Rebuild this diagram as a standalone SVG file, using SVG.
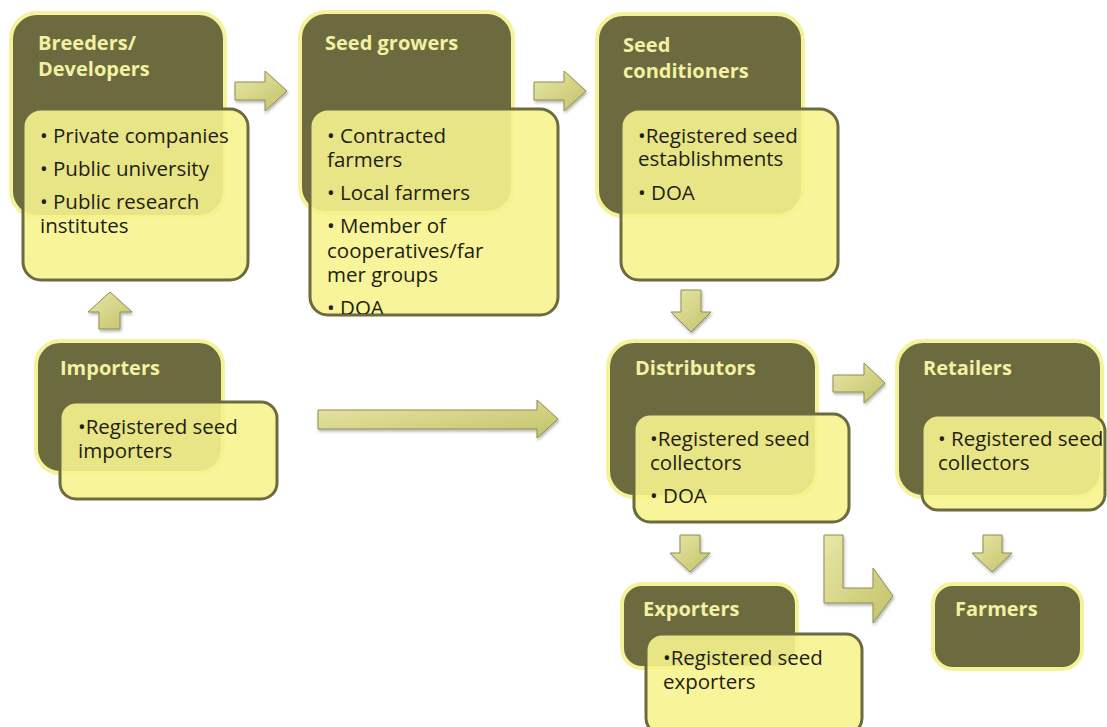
<svg xmlns="http://www.w3.org/2000/svg" width="1107" height="727" viewBox="0 0 1107 727">
<style>
.dark{fill:#6c6a3f;stroke:#f5f39a;stroke-width:4}
.light{fill:#f6f38e;fill-opacity:0.9;stroke:#6c6a3f;stroke-width:3}
.title{font-family:"Open Sans","Liberation Sans",sans-serif;font-weight:bold;font-size:20px;fill:#f3f1a2}
.body{font-family:"Open Sans","Liberation Sans",sans-serif;font-size:20.5px;fill:#1e1e14}
.arrow{fill:url(#ag);stroke:#8f8e52;stroke-width:1;filter:url(#sh)}
</style>
<defs>
<linearGradient id="ag" x1="0" y1="0" x2="1" y2="1">
<stop offset="0" stop-color="#e8e7a6"/>
<stop offset="1" stop-color="#c3c26a"/>
</linearGradient>
<filter id="sh" x="-20%" y="-20%" width="150%" height="150%">
<feDropShadow dx="1" dy="2" stdDeviation="1.5" flood-color="#000" flood-opacity="0.3"/>
</filter>
<clipPath id="cg"><rect x="310" y="108" width="248" height="206" rx="18"/></clipPath>
</defs>

<g id="connectors">
<path class="arrow" d="M235,82 H265 V71 L287,91 L265,111 V100 H235 Z"/>
<path class="arrow" d="M534,82 H564 V71 L586,91 L564,111 V100 H534 Z"/>
<path class="arrow" d="M681,290 H701 V312 H711 L691,332 L671,312 H681 Z"/>
<path class="arrow" d="M99,329 V312 H88 L110,292 L132,312 H120 V329 Z"/>
<path class="arrow" d="M318,410 H537 V400 L558,419 L537,438 V429 H318 Z"/>
<path class="arrow" d="M833,375 H864 V363 L885,383 L864,403 V392 H833 Z"/>
<path class="arrow" d="M680,535 H700 V553 H710 L690,572 L670,553 H680 Z"/>
<path class="arrow" d="M983,535 H1002 V553 H1012 L992,572 L972,553 H983 Z"/>
<path class="arrow" d="M824,535 H843 V588 H873 V568 L893,596 L873,623 V603 H824 Z"/>
</g>

<g id="breeders">
<rect class="dark" x="11" y="13" width="214" height="204" rx="26"/>
<text class="title" x="38" y="50">Breeders/</text>
<text class="title" x="38" y="76">Developers</text>
<rect class="light" x="23" y="109" width="225" height="171" rx="18"/>
<text class="body" x="40" y="143">• Private companies</text>
<text class="body" x="40" y="176">• Public university</text>
<text class="body" x="40" y="209">• Public research</text>
<text class="body" x="40" y="233">institutes</text>
</g>

<g id="seed-growers">
<rect class="dark" x="300" y="12" width="213" height="201" rx="26"/>
<text class="title" x="325" y="50">Seed growers</text>
<rect class="light" x="310" y="109" width="248" height="206" rx="18"/>
<g clip-path="url(#cg)">
<text class="body" x="327" y="143">• Contracted</text>
<text class="body" x="327" y="167">farmers</text>
<text class="body" x="327" y="200">• Local farmers</text>
<text class="body" x="327" y="233">• Member of</text>
<text class="body" x="327" y="258">cooperatives/far</text>
<text class="body" x="327" y="282">mer groups</text>
<text class="body" x="327" y="315">• DOA</text>
</g>
</g>

<g id="seed-conditioners">
<rect class="dark" x="597" y="14" width="206" height="202" rx="26"/>
<text class="title" x="623" y="52">Seed</text>
<text class="title" x="623" y="78">conditioners</text>
<rect class="light" x="621" y="109" width="217" height="171" rx="18"/>
<text class="body" x="638" y="143">•Registered seed</text>
<text class="body" x="638" y="166">establishments</text>
<text class="body" x="638" y="200">• DOA</text>
</g>

<g id="importers">
<rect class="dark" x="36" y="341" width="187" height="132" rx="24"/>
<text class="title" x="60" y="375">Importers</text>
<rect class="light" x="60" y="402" width="217" height="97" rx="16"/>
<text class="body" x="78" y="434">•Registered seed</text>
<text class="body" x="78" y="458">importers</text>
</g>

<g id="distributors">
<rect class="dark" x="608" y="341" width="209" height="156" rx="26"/>
<text class="title" x="635" y="375">Distributors</text>
<rect class="light" x="634" y="414" width="215" height="108" rx="16"/>
<text class="body" x="650" y="446">•Registered seed</text>
<text class="body" x="650" y="470">collectors</text>
<text class="body" x="650" y="503">• DOA</text>
</g>

<g id="retailers">
<rect class="dark" x="897" y="341" width="205" height="156" rx="26"/>
<text class="title" x="923" y="375">Retailers</text>
<rect class="light" x="922" y="415" width="183" height="95" rx="16"/>
<text class="body" x="938" y="446">• Registered seed</text>
<text class="body" x="938" y="470">collectors</text>
</g>

<g id="exporters">
<rect class="dark" x="622" y="584" width="175" height="84" rx="20"/>
<text class="title" x="643" y="616">Exporters</text>
<rect class="light" x="646" y="634" width="216" height="100" rx="16"/>
<text class="body" x="663" y="665">•Registered seed</text>
<text class="body" x="663" y="689">exporters</text>
</g>

<g id="farmers">
<rect class="dark" x="933" y="584" width="149" height="85" rx="20"/>
<text class="title" x="955" y="616">Farmers</text>
</g>
</svg>
